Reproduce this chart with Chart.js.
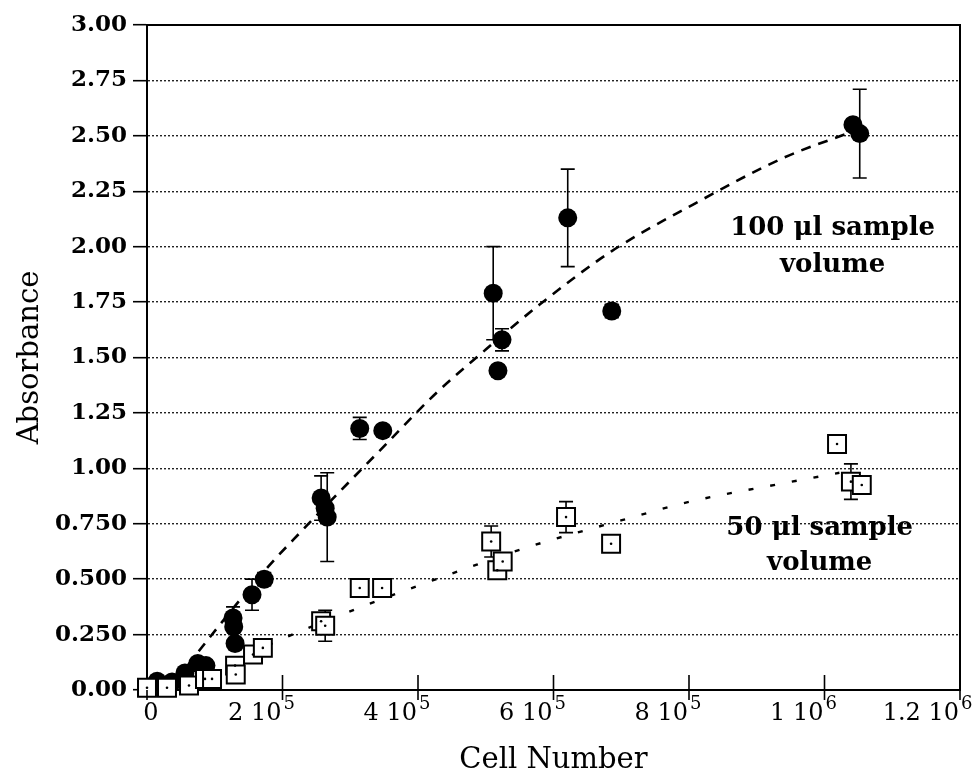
<!DOCTYPE html>
<html><head><meta charset="utf-8">
<script src="https://cdn.jsdelivr.net/npm/chart.js@4"></script>
<style>html,body{margin:0;padding:0;background:#fff}</style>
</head><body>
<canvas id="c" width="978" height="781" style="display:block;width:978px;height:781px"></canvas>
<script>
// ---- data ----
const cells100 = [15000, 37000, 56000, 75000, 87000, 127000, 128000, 130000, 155000, 173000, 257000, 263000, 266000, 314000, 348000, 511000, 518000, 524000, 621000, 686000, 1042000, 1052000];
const abs100   = [0.04, 0.036, 0.077, 0.12, 0.11, 0.325, 0.285, 0.21, 0.43, 0.50, 0.866, 0.82, 0.78, 1.18, 1.17, 1.79, 1.44, 1.58, 2.13, 1.71, 2.55, 2.51];
const err100   = [0, 0, 0, 0, 0, 0.05, 0, 0, 0.07, 0.03, 0.10, 0, 0.20, 0.05, 0, 0.21, 0, 0.05, 0.22, 0.03, 0, 0.20];

const cells50 = [0, 29500, 62000, 85600, 96000, 130000, 131000, 156500, 171000, 257000, 263000, 314000, 347000, 508000, 517000, 525000, 618500, 685000, 1018500, 1039000, 1055000];
const abs50   = [0.01, 0.01, 0.02, 0.05, 0.05, 0.11, 0.07, 0.16, 0.19, 0.31, 0.29, 0.46, 0.46, 0.67, 0.54, 0.58, 0.78, 0.66, 1.11, 0.94, 0.925];
const err50   = [0, 0, 0, 0, 0, 0, 0, 0, 0, 0, 0.07, 0, 0, 0.07, 0, 0.035, 0.07, 0, 0.04, 0.08, 0];

const fit100Cells = [60000, 87000, 177000, 226000, 350000, 427000, 494000, 580000, 686000, 806000, 939000, 1042000];
const fit100Abs   = [0.11, 0.216, 0.55, 0.71, 1.10, 1.34, 1.52, 1.74, 1.98, 2.19, 2.40, 2.52];
const fit50Cells  = [60000, 106000, 207000, 308000, 373000, 468000, 568000, 701000, 802000, 935000, 1022000];
const fit50Abs    = [0.04, 0.10, 0.24, 0.365, 0.44, 0.545, 0.65, 0.766, 0.85, 0.93, 0.98];

const yTickValues = [0, 0.25, 0.5, 0.75, 1, 1.25, 1.5, 1.75, 2, 2.25, 2.5, 2.75, 3];
const yTickLabels = ['0.00', '0.250', '0.500', '0.750', '1.00', '1.25', '1.50', '1.75', '2.00', '2.25', '2.50', '2.75', '3.00'];
const xTickValues   = [0, 200000, 400000, 600000, 800000, 1000000, 1200000];
const xTickMantissa = ['0', '2', '4', '6', '8', '1', '1.2'];
const xTickExponent = ['', '5', '5', '5', '5', '6', '6'];

const label100 = ['100 μl sample', 'volume'];
const label50  = ['50 μl sample', 'volume'];
const xTitle = 'Cell Number';
const yTitle = 'Absorbance';

const pts = (xs, ys) => xs.map((v, i) => ({x: v, y: ys[i]}));
const SERIF = '"DejaVu Serif", "Liberation Serif", serif';

const decor = {
  id: 'decor',
  beforeDatasetsDraw(chart) {
    const {ctx, scales: {x, y}} = chart;
    ctx.save();
    ctx.strokeStyle = '#000';
    ctx.lineWidth = 1.6;
    const bars = (xs, ys, es) => xs.forEach((cx, i) => {
      const e = es[i];
      if (!e) return;
      const px = x.getPixelForValue(cx);
      const t = y.getPixelForValue(ys[i] + e);
      const b = y.getPixelForValue(ys[i] - e);
      ctx.beginPath();
      ctx.moveTo(px, t); ctx.lineTo(px, b);
      ctx.moveTo(px - 7, t); ctx.lineTo(px + 7, t);
      ctx.moveTo(px - 7, b); ctx.lineTo(px + 7, b);
      ctx.stroke();
    });
    bars(cells100, abs100, err100);
    bars(cells50, abs50, err50);
    ctx.restore();
  },
  afterDraw(chart) {
    const {ctx, chartArea: a, scales: {x, y}} = chart;
    ctx.save();
    ctx.strokeStyle = '#000';
    ctx.lineWidth = 2;
    ctx.beginPath();
    ctx.moveTo(a.left, a.top); ctx.lineTo(a.right, a.top); ctx.lineTo(a.right, a.bottom);
    ctx.stroke();
    // x ticks crossing the axis
    ctx.lineWidth = 1.6;
    xTickValues.forEach((v, i) => {
      const px = x.getPixelForValue(v);
      ctx.beginPath();
      ctx.moveTo(px, a.bottom - (i === 0 ? 0 : 15));
      ctx.lineTo(px, a.bottom + 10);
      ctx.stroke();
    });
    // x tick labels with exponent
    ctx.fillStyle = '#000';
    ctx.textBaseline = 'alphabetic';
    xTickValues.forEach((v, i) => {
      const px = x.getPixelForValue(v);
      const base = a.bottom + 30;
      if (!xTickExponent[i]) {
        ctx.font = '24px ' + SERIF;
        ctx.textAlign = 'center';
        ctx.fillText(xTickMantissa[i], px + 4, base);
        return;
      }
      ctx.font = '24px ' + SERIF;
      ctx.textAlign = 'right';
      ctx.fillText(xTickMantissa[i] + ' 10', px - 1, base);
      ctx.font = '18px ' + SERIF;
      ctx.textAlign = 'left';
      ctx.fillText(xTickExponent[i], px + 1, base - 11);
    });
    // annotations
    ctx.font = 'bold 26px ' + SERIF;
    ctx.textAlign = 'center';
    ctx.textBaseline = 'middle';
    const put = (lines, cx, cy1, cy2) => {
      const px = x.getPixelForValue(cx);
      ctx.fillText(lines[0], px, y.getPixelForValue(cy1));
      ctx.fillText(lines[1], px, y.getPixelForValue(cy2));
    };
    put(label100, 1012000, 2.084, 1.917);
    put(label50, 993000, 0.731, 0.573);
    ctx.restore();
  }
};

new Chart(document.getElementById('c'), {
  type: 'scatter',
  data: {
    datasets: [
      {label: 'dots', data: pts(cells50, abs50), pointStyle: 'circle', pointRadius: 1.3, pointBackgroundColor: '#000', pointBorderWidth: 0, order: 1, clip: false},
      {label: '50 µl', data: pts(cells50, abs50), pointStyle: 'rect', pointRadius: 12.7, pointBackgroundColor: '#fff', pointBorderColor: '#000', pointBorderWidth: 2, order: 2, clip: false},
      {label: '100 µl', data: pts(cells100, abs100), pointStyle: 'circle', pointRadius: 9.5, pointBackgroundColor: '#000', pointBorderColor: '#000', pointBorderWidth: 0, order: 3, clip: false},
      {label: 'fit 100', data: pts(fit100Cells, fit100Abs), showLine: true, pointRadius: 0, borderColor: '#000', borderWidth: 2.6, borderDash: [10, 8], cubicInterpolationMode: 'monotone', order: 4},
      {label: 'fit 50', data: pts(fit50Cells, fit50Abs), showLine: true, pointRadius: 0, borderColor: '#000', borderWidth: 2.4, borderDash: [5, 17], cubicInterpolationMode: 'monotone', order: 5}
    ]
  },
  options: {
    responsive: false,
    animation: false,
    devicePixelRatio: 1,
    layout: {padding: {top: 25, right: 18, left: 0, bottom: 0}},
    plugins: {legend: {display: false}, tooltip: {enabled: false}},
    scales: {
      x: {
        type: 'linear', min: 0, max: 1200000,
        afterFit: s => { s.height = 91; },
        ticks: {display: false},
        grid: {display: false},
        border: {display: true, color: '#000', width: 2},
        title: {display: true, text: xTitle, color: '#000', font: {family: SERIF, size: 29}, padding: {top: 0, bottom: 3}}
      },
      y: {
        type: 'linear', min: 0, max: 3,
        afterFit: s => { s.width = 147; },
        afterBuildTicks: s => { s.ticks = yTickValues.map(v => ({value: v})); },
        ticks: {color: '#000', padding: 6, font: {family: SERIF, size: 23, weight: 'bold'}, callback: (v, i) => yTickLabels[i]},
        grid: {color: '#222', lineWidth: 1.4, tickColor: '#000', tickLength: 14, tickWidth: 1.6},
        border: {display: true, color: '#000', width: 2, dash: [2, 2]},
        title: {display: true, text: yTitle, color: '#000', font: {family: SERIF, size: 29}, padding: {top: 13, bottom: 0}}
      }
    }
  },
  plugins: [decor]
});
</script>
</body></html>
